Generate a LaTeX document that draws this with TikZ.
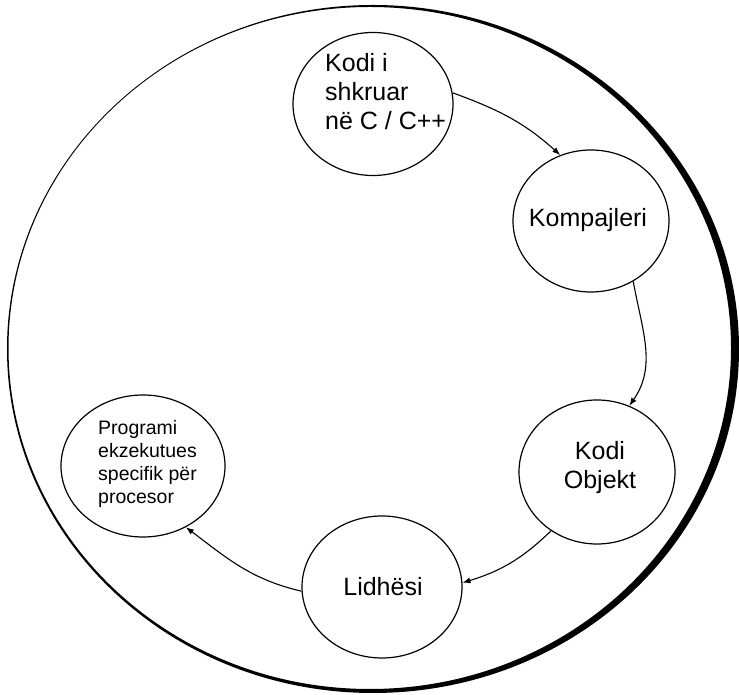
\documentclass[tikz,border=0pt]{standalone}
\usepackage{fontspec}
\setmainfont{Liberation Sans}
\usetikzlibrary{arrows.meta,shapes.geometric}
\begin{document}
\begin{tikzpicture}[x=1pt,y=1pt,
  stage/.style={draw=black,line width=1.2pt,ellipse,inner sep=0pt,minimum width=160pt,minimum height=143pt},
  bigtxt/.style={font=\fontsize{25}{29}\selectfont,inner sep=0pt},
  smalltxt/.style={font=\fontsize{19.5}{23}\selectfont,inner sep=0pt},
  flow/.style={line width=1.1pt,-{Latex[length=8pt,width=6pt]}}]
\useasboundingbox (0,0) rectangle (739,695);
\fill[white] (0,0) rectangle (739,695);
% outer ring: thin on the left, heavy on the right
\fill[black,even odd rule] (373,346) ellipse [x radius=366,y radius=344]
  (369.75,347) ellipse [x radius=361.25,y radius=341];
% stages
\node[stage] (c1) at (373,591) {};
\node[stage,minimum width=156pt,minimum height=142pt] (c2) at (591,474) {};
\node[stage,minimum width=156pt,minimum height=144pt] (c3) at (597,223) {};
\node[stage,minimum width=160pt,minimum height=142pt] (c4) at (382,108) {};
\node[stage,minimum width=164pt,minimum height=142pt] (c5) at (143,229) {};
% texts
\node[bigtxt,align=left,anchor=west] (t1) at (325,603) {Kodi i\\shkruar\\në C / C++};
\node[bigtxt] (t2) at (588,475) {Kompajleri};
\node[bigtxt,align=center] (t3) at (600,227) {Kodi\\Objekt};
\node[bigtxt] (t4) at (383,108) {Lidhësi};
\node[smalltxt,align=left,anchor=west] (t5) at (98,231) {Programi\\ekzekutues\\specifik për\\procesor};
% connectors
\draw[flow] (c1.8) to[out=-20,in=138] (c2.115);
\draw[flow] (c2.-55) to[out=-80,in=55] (c3.64);
\draw[flow] (c3.-128) to[out=224,in=17] (c4.3);
\draw[flow] (c4.183) to[out=167,in=-37] (c5.-55);
\end{tikzpicture}
\end{document}
